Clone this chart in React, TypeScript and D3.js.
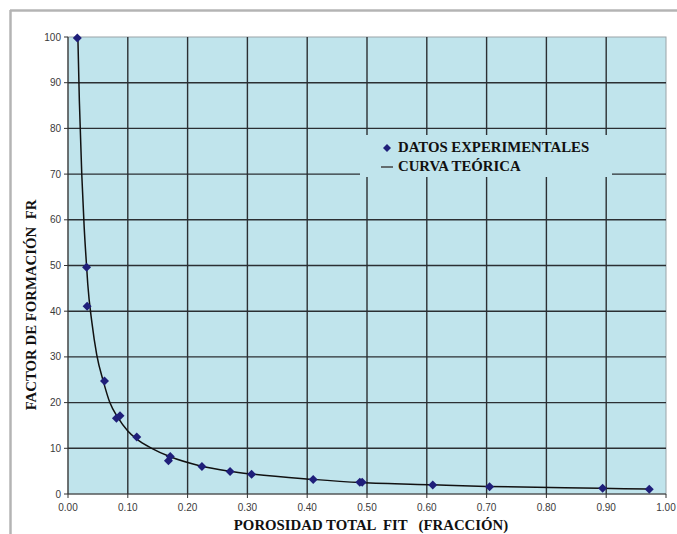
import React from "react";
import * as d3 from "d3";

const expX: number[] = [0.0156, 0.031, 0.032, 0.061, 0.081, 0.087, 0.115, 0.168, 0.171, 0.224, 0.271, 0.307, 0.41, 0.488, 0.492, 0.61, 0.705, 0.894, 0.972];
const expY: number[] = [99.8, 49.6, 41.1, 24.7, 16.6, 17.1, 12.5, 7.3, 8.2, 6.0, 4.9, 4.3, 3.2, 2.55, 2.55, 1.95, 1.6, 1.25, 1.05];

const curveX: number[] = [0.0165, 0.019, 0.023, 0.027, 0.031, 0.033, 0.04, 0.048, 0.059, 0.07, 0.083, 0.1, 0.115, 0.14, 0.17, 0.22, 0.27, 0.305, 0.41, 0.49, 0.61, 0.7, 0.89, 0.97];
const curveY: number[] = [100, 86, 70, 58.5, 50, 46, 37.5, 30.5, 24.7, 20, 16.8, 13.8, 12.0, 10, 8.2, 6.2, 5.0, 4.4, 3.2, 2.5, 2.0, 1.65, 1.25, 1.08];

const xTicks: number[] = [0, 0.1, 0.2, 0.3, 0.4, 0.5, 0.6, 0.7, 0.8, 0.9, 1.0];
const yTicks: number[] = [0, 10, 20, 30, 40, 50, 60, 70, 80, 90, 100];

const legendLabels: string[] = ["DATOS EXPERIMENTALES", "CURVA TEÓRICA"];
const xTitle = "POROSIDAD TOTAL  FIT   (FRACCIÓN)";
const yTitle = "FACTOR DE FORMACIÓN  FR";

export default function App() {
  const W = 677, H = 534;
  const L = 68, R = 666, T = 37, B = 494;
  const x = d3.scaleLinear().domain([0, 1]).range([L, R]);
  const y = d3.scaleLinear().domain([0, 100]).range([B, T]);
  const line = d3
    .line<number>()
    .x((_, i) => x(curveX[i]))
    .y((_, i) => y(curveY[i]))
    .curve(d3.curveMonotoneX);
  const diamond = (cx: number, cy: number, r: number) =>
    `M${cx},${cy - r}L${cx + r},${cy}L${cx},${cy + r}L${cx - r},${cy}Z`;
  const bg = "#c0e4ec";
  const grid = "#2b2f33";
  const serif = "'Liberation Serif', 'Times New Roman', serif";
  const sans = "'Liberation Sans', Arial, sans-serif";
  return (
    <svg width={W} height={H} style={{ position: "absolute", left: 0, top: 0, background: "#fff" }}>
      <rect x={0} y={0} width={W} height={H} fill="#fff" />
      {/* outer frame */}
      <line x1={10} y1={10.5} x2={W} y2={10.5} stroke="#b4b4b4" strokeWidth={2.5} />
      <line x1={10.5} y1={10} x2={10.5} y2={H} stroke="#b4b4b4" strokeWidth={2.5} />
      {/* plot area */}
      <rect x={L} y={T} width={R - L} height={B - T} fill={bg} stroke="#9aa4a8" strokeWidth={1} />
      {xTicks.slice(1, -1).map((t) => (
        <line key={"gx" + t} x1={x(t)} x2={x(t)} y1={T} y2={B} stroke={grid} strokeWidth={1.4} />
      ))}
      {yTicks.slice(1, -1).map((t) => (
        <line key={"gy" + t} x1={L} x2={R} y1={y(t)} y2={y(t)} stroke={grid} strokeWidth={1.4} />
      ))}
      {/* axes */}
      <line x1={L} x2={L} y1={T} y2={B} stroke="#333" strokeWidth={1.2} />
      <line x1={L} x2={R} y1={B} y2={B} stroke="#333" strokeWidth={1.2} />
      {yTicks.map((t) => (
        <g key={"yt" + t}>
          <line x1={L - 4} x2={L} y1={y(t)} y2={y(t)} stroke="#333" strokeWidth={1} />
          <text x={L - 7} y={y(t) + 3.5} textAnchor="end" fontFamily={sans} fontSize={10} fill="#3a3a3a">
            {t}
          </text>
        </g>
      ))}
      {xTicks.map((t) => (
        <g key={"xt" + t}>
          <line x1={x(t)} x2={x(t)} y1={B} y2={B + 4} stroke="#333" strokeWidth={1} />
          <text x={x(t)} y={B + 17} textAnchor="middle" fontFamily={sans} fontSize={10} fill="#3a3a3a">
            {t.toFixed(2)}
          </text>
        </g>
      ))}
      {/* legend box */}
      <rect x={360} y={135} width={252} height={42} fill={bg} />
      <path d={diamond(387, 148, 4)} fill="#1f1f7a" />
      <text x={398} y={152} fontFamily={serif} fontWeight="bold" fontSize={14.8} fill="#111">
        {legendLabels[0]}
      </text>
      <line x1={381} x2={393} y1={167} y2={167} stroke="#444" strokeWidth={1.5} />
      <text x={398} y={171} fontFamily={serif} fontWeight="bold" fontSize={14.8} fill="#111">
        {legendLabels[1]}
      </text>
      {/* curve */}
      <path d={line(curveX) || ""} fill="none" stroke="#111" strokeWidth={1.5} />
      {/* points */}
      {expX.map((v, i) => (
        <path key={"p" + i} d={diamond(x(v), y(expY[i]), 4.5)} fill="#1f1f7a" />
      ))}
      {/* titles */}
      <text x={371} y={530} textAnchor="middle" fontFamily={serif} fontWeight="bold" fontSize={14.8} fill="#111" style={{ whiteSpace: "pre" }}>
        {xTitle}
      </text>
      <text
        transform={`translate(36,${305}) rotate(-90)`}
        textAnchor="middle"
        fontFamily={serif}
        fontWeight="bold"
        fontSize={14.8}
        fill="#111"
        style={{ whiteSpace: "pre" }}
      >
        {yTitle}
      </text>
    </svg>
  );
}
